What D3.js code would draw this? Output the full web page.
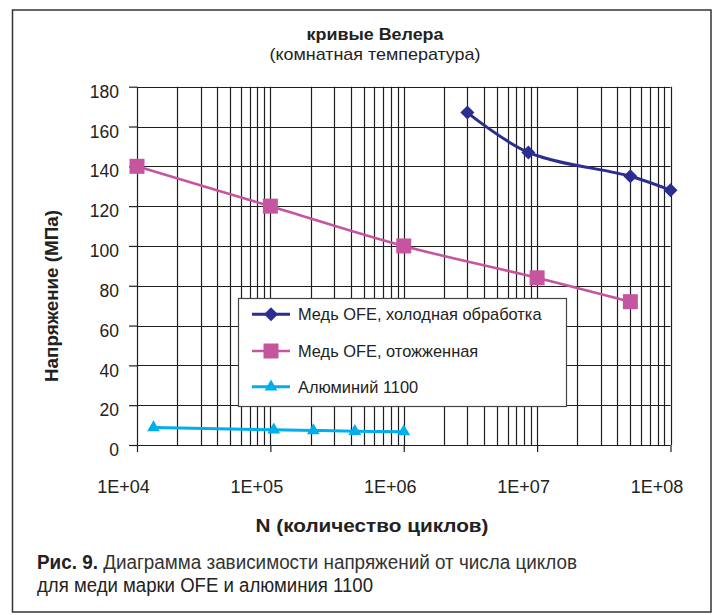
<!DOCTYPE html>
<html>
<head>
<meta charset="utf-8">
<script src="https://cdn.jsdelivr.net/npm/d3@7"></script>
<style>
  body { margin: 0; background: #fff; }
  svg text { font-family: Arial, "Liberation Sans", sans-serif; fill: #222; }
</style>
</head>
<body>
<script>
// S-N (Wöhler) data
var seriesNames = ['Медь OFE, холодная обработка', 'Медь OFE, отожженная', 'Алюминий 1100'];
var seriesColors = ['#2b2e8f', '#c6559f', '#00aeef'];
var seriesMarkers = ['diamond', 'square', 'triangle'];

var cyclesCold = [3.0e6, 8.6e6, 5.0e7, 1.0e8];
var stressCold = [167, 147, 135, 128];

var cyclesAnnealed = [1e4, 1e5, 1e6, 1e7, 5e7];
var stressAnnealed = [140, 120, 100, 84, 72];

var cyclesAl = [1.33e4, 1.06e5, 2.1e5, 4.3e5, 1.0e6];
var stressAl = [8.8, 7.6, 7.3, 6.9, 6.7];

var xTicks = [1e4, 1e5, 1e6, 1e7, 1e8];
var xTickLabels = ['1E+04', '1E+05', '1E+06', '1E+07', '1E+08'];
var yTicks = [0, 20, 40, 60, 80, 100, 120, 140, 160, 180];

var titleText = 'кривые Велера';
var subtitleText = '(комнатная температура)';
var xTitle = 'N (количество циклов)';
var yTitle = 'Напряжение (МПа)';
var captionBold = 'Рис. 9.';
var captionLine1 = ' Диаграмма зависимости напряжений от числа циклов';
var captionLine2 = 'для меди марки OFE и алюминия 1100';

var series = [
  { name: seriesNames[0], color: seriesColors[0], marker: seriesMarkers[0], pts: d3.zip(cyclesCold, stressCold) },
  { name: seriesNames[1], color: seriesColors[1], marker: seriesMarkers[1], pts: d3.zip(cyclesAnnealed, stressAnnealed) },
  { name: seriesNames[2], color: seriesColors[2], marker: seriesMarkers[2], pts: d3.zip(cyclesAl, stressAl) }
];

var W = 717, H = 615;
var svg = d3.select('body').append('svg')
  .attr('width', W)
  .attr('height', H);

// outer frame round chart + caption
svg.append('rect')
  .attr('x', 12.5).attr('y', 10)
  .attr('width', 698.5).attr('height', 602)
  .attr('fill', 'none')
  .attr('stroke', '#333')
  .attr('stroke-width', 1.5);

var x = d3.scaleLog().domain([1e4, 1e8]).range([137, 670.5]);
var y = d3.scaleLinear().domain([0, 180]).range([445, 86.7]);

// grid
var grid = svg.append('g').attr('stroke', '#1e1e1e').attr('stroke-width', 1.2);
grid.selectAll('line.v')
  .data(x.ticks())
  .enter().append('line')
  .attr('class', 'v')
  .attr('x1', d => Math.round(x(d)) + 0.5).attr('x2', d => Math.round(x(d)) + 0.5)
  .attr('y1', y(180)).attr('y2', y(0));
grid.selectAll('line.h')
  .data(yTicks)
  .enter().append('line')
  .attr('class', 'h')
  .attr('x1', x(1e4)).attr('x2', x(1e8))
  .attr('y1', d => Math.round(y(d)) + 0.5).attr('y2', d => Math.round(y(d)) + 0.5);

// axes
var xAxis = svg.append('g')
  .attr('transform', 'translate(0,' + y(0) + ')')
  .call(d3.axisBottom(x).tickValues(xTicks).tickSize(7).tickPadding(28)
    .tickFormat((d, i) => xTickLabels[i]));
xAxis.select('.domain').remove();
xAxis.selectAll('line').attr('stroke', '#1e1e1e').attr('stroke-width', 1.2);
xAxis.selectAll('text')
  .attr('dx', -14)
  .style('font-size', '18px')
  .attr('fill', '#222');

var yAxis = svg.append('g')
  .attr('transform', 'translate(' + x(1e4) + ',0)')
  .call(d3.axisLeft(y).tickValues(yTicks).tickSize(8).tickPadding(10));
yAxis.select('.domain').remove();
yAxis.selectAll('line').attr('stroke', '#1e1e1e').attr('stroke-width', 1.2);
yAxis.selectAll('text')
  .attr('dy', '0.95em')
  .attr('y', -6)
  .style('font-size', '17.5px')
  .attr('fill', '#222');

// titles
svg.append('text')
  .attr('x', 375).attr('y', 39.5)
  .attr('text-anchor', 'middle')
  .attr('textLength', 137).attr('lengthAdjust', 'spacingAndGlyphs')
  .style('font-size', '16.5px').style('font-weight', 'bold')
  .text(titleText);
svg.append('text')
  .attr('x', 375).attr('y', 59.5)
  .attr('text-anchor', 'middle')
  .attr('textLength', 211).attr('lengthAdjust', 'spacingAndGlyphs')
  .style('font-size', '17px')
  .text(subtitleText);

svg.append('text')
  .attr('x', 372).attr('y', 531.5)
  .attr('text-anchor', 'middle')
  .attr('textLength', 233).attr('lengthAdjust', 'spacingAndGlyphs')
  .style('font-size', '18px').style('font-weight', 'bold')
  .text(xTitle);

svg.append('text')
  .attr('transform', 'translate(58,296) rotate(-90)')
  .attr('text-anchor', 'middle')
  .attr('textLength', 172).attr('lengthAdjust', 'spacingAndGlyphs')
  .style('font-size', '17.5px').style('font-weight', 'bold')
  .text(yTitle);

// markers
function markerPath(type) {
  if (type === 'diamond') return 'M0,-7L7,0L0,7L-7,0Z';
  if (type === 'square') return 'M-7.5,-7.5H7.5V7.5H-7.5Z';
  return 'M0,-7.3L6.4,3.7L-6.4,3.7Z';
}

var line = d3.line()
  .x(d => x(d[0]))
  .y(d => y(d[1]))
  .curve(d3.curveCatmullRom.alpha(0.5));

var sg = svg.selectAll('g.series')
  .data(series)
  .enter().append('g')
  .attr('class', 'series');

sg.append('path')
  .attr('d', d => line(d.pts))
  .attr('fill', 'none')
  .attr('stroke', d => d.color)
  .attr('stroke-width', (d, i) => i === 1 ? 2.6 : 3);

sg.each(function (s) {
  d3.select(this).selectAll('path.mk')
    .data(s.pts)
    .enter().append('path')
    .attr('class', 'mk')
    .attr('transform', d => 'translate(' + x(d[0]) + ',' + y(d[1]) + ')')
    .attr('d', markerPath(s.marker))
    .attr('fill', s.color);
});

// legend
var legend = svg.append('g').attr('transform', 'translate(238,298)');
legend.append('rect')
  .attr('x', 0.5).attr('y', 0.5)
  .attr('width', 328).attr('height', 108)
  .attr('fill', '#fff')
  .attr('stroke', '#444')
  .attr('stroke-width', 1.2);

var li = legend.selectAll('g.item')
  .data(series)
  .enter().append('g')
  .attr('class', 'item')
  .attr('transform', (d, i) => 'translate(0,' + [16.3, 53, 88.7][i] + ')');
li.append('line')
  .attr('x1', 14).attr('x2', 52)
  .attr('stroke', d => d.color)
  .attr('stroke-width', (d, i) => i === 1 ? 2.6 : 3);
li.append('path')
  .attr('transform', 'translate(33,0)')
  .attr('d', d => markerPath(d.marker))
  .attr('fill', d => d.color);
li.append('text')
  .attr('x', 60).attr('y', 6)
  .style('font-size', '16.4px')
  .text(d => d.name);

// caption
var cap = svg.append('g')
  .style('font-family', '"Liberation Sans Narrow", "DejaVu Sans Condensed", "Roboto", sans-serif')
  .style('font-stretch', 'condensed');
var c1 = cap.append('text')
  .attr('x', 37).attr('y', 568.5)
  .attr('textLength', 540)
  .attr('lengthAdjust', 'spacingAndGlyphs')
  .style('font-size', '19.5px');
c1.append('tspan').style('font-weight', 'bold').text(captionBold);
c1.append('tspan').attr('fill', '#333').text(captionLine1);
cap.append('text')
  .attr('x', 37).attr('y', 592)
  .attr('textLength', 336)
  .attr('lengthAdjust', 'spacingAndGlyphs')
  .attr('fill', '#333')
  .style('font-size', '19.5px')
  .text(captionLine2);
</script>
</body>
</html>
